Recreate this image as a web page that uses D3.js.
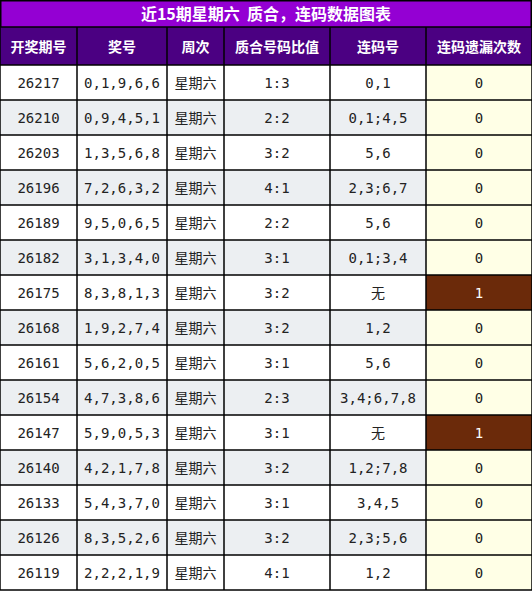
<!DOCTYPE html><html><head><meta charset="utf-8"><script src="https://cdn.jsdelivr.net/npm/d3@7"></script>
<style>body{margin:0;background:#fff}</style></head><body><svg id="c" width="532" height="591"></svg>
<script>
const title="近15期星期六  质合，连码数据图表";
const headers=["开奖期号","奖号","周次","质合号码比值","连码号","连码遗漏次数"];
const periods=["26217","26210","26203","26196","26189","26182","26175","26168","26161","26154","26147","26140","26133","26126","26119"];
const draws=["0,1,9,6,6","0,9,4,5,1","1,3,5,6,8","7,2,6,3,2","9,5,0,6,5","3,1,3,4,0","8,3,8,1,3","1,9,2,7,4","5,6,2,0,5","4,7,3,8,6","5,9,0,5,3","4,2,1,7,8","5,4,3,7,0","8,3,5,2,6","2,2,2,1,9"];
const weekday="星期六";
const ratios=["1:3","2:2","3:2","4:1","2:2","3:1","3:2","3:2","3:1","2:3","3:1","3:2","3:1","3:2","4:1"];
const consec=["0,1","0,1;4,5","5,6","2,3;6,7","5,6","0,1;3,4","无","1,2","5,6","3,4;6,7,8","无","1,2;7,8","3,4,5","2,3;5,6","1,2"];
const misses=[0,0,0,0,0,0,1,0,0,0,1,0,0,0,0];
const colEdges=[0,77,167,224,330,426,532];
const svg=d3.select("#c");
const x=i=>colEdges[i];
const y=d3.scaleLinear().domain([0,15]).range([65,590]);
const cjk="'Noto Sans CJK SC',sans-serif", mono="'DejaVu Sans Mono',monospace";
svg.append("rect").attr("x",0).attr("y",0).attr("width",532).attr("height",27).attr("fill","#9400D3");
svg.append("text").attr("x",266).attr("y",14).attr("dy","0.35em").attr("text-anchor","middle").attr("fill","#fff").attr("font-family",cjk).attr("font-weight","bold").attr("font-size",16).attr("xml:space","preserve").text(title);
svg.append("rect").attr("x",0).attr("y",27).attr("width",532).attr("height",38).attr("fill","#4B0082");
headers.forEach((h,i)=>svg.append("text").attr("x",(x(i)+x(i+1))/2).attr("y",47).attr("dy","0.35em").attr("text-anchor","middle").attr("fill","#fff").attr("font-family",cjk).attr("font-weight","bold").attr("font-size",14).text(h));
periods.forEach((p,r)=>{
  const vals=[p,draws[r],weekday,ratios[r],consec[r],String(misses[r])];
  vals.forEach((v,c)=>{
    let fill=r%2?"#ECEFF2":"#fff";
    if(c===5) fill=misses[r]?"#6B2A0A":"#FFFFE6";
    svg.append("rect").attr("x",x(c)).attr("y",y(r)).attr("width",x(c+1)-x(c)).attr("height",35).attr("fill",fill);
    const isCjk=c===2||v==="无";
    svg.append("text").attr("x",(x(c)+x(c+1))/2).attr("y",y(r)+18).attr("dy","0.35em").attr("text-anchor","middle")
      .attr("fill",c===5&&misses[r]?"#fff":"#222").attr("font-family",isCjk?cjk:mono).attr("font-size",14).text(v);
  });
});
const g=svg.append("g").attr("stroke","#000").attr("stroke-width",1.5);
for(let r=0;r<=15;r++) g.append("line").attr("x1",0).attr("x2",532).attr("y1",y(r)).attr("y2",y(r));
g.append("line").attr("x1",0).attr("x2",532).attr("y1",27).attr("y2",27);
colEdges.forEach(e=>g.append("line").attr("x1",e).attr("x2",e).attr("y1",27).attr("y2",590));
g.append("line").attr("x1",0).attr("x2",532).attr("y1",0.75).attr("y2",0.75);
g.append("line").attr("x1",0.75).attr("x2",0.75).attr("y1",0).attr("y2",27);
g.append("line").attr("x1",531.25).attr("x2",531.25).attr("y1",0).attr("y2",27);
</script></body></html>
